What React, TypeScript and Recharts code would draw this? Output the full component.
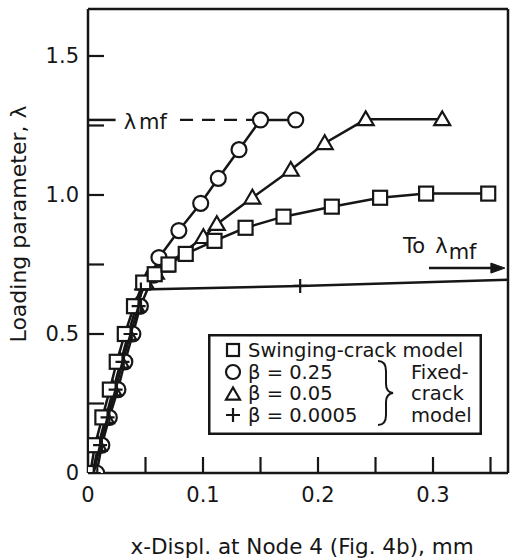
import React from 'react';
import {
  ScatterChart,
  Scatter,
  XAxis,
  YAxis,
  ReferenceLine,
  ReferenceDot,
  Legend,
  Label,
} from 'recharts';

const INK = '#161616';
const FONT = 'DejaVu Sans, Verdana, sans-serif';

const XMAX = 0.3652;
const YMAX = 1.669;
const LAMBDA_MF = 1.27;

const xTickLabels = [0, 0.1, 0.2, 0.3];
const xTickMarks = [0, 0.05, 0.1, 0.15, 0.2, 0.25, 0.3, 0.35];
const yTickLabels = [0, 0.5, 1.0, 1.5];
const yTickMarks = [0, 0.25, 0.5, 0.75, 1.0, 1.25, 1.5];

type Pt = { x: number; y: number; hidden?: boolean };

const swingingCrack: Pt[] = [
  { x: 0.002, y: 0 }, { x: 0.006, y: 0.1 }, { x: 0.0125, y: 0.2 }, { x: 0.019, y: 0.3 },
  { x: 0.025, y: 0.4 }, { x: 0.032, y: 0.5 }, { x: 0.04, y: 0.6 }, { x: 0.048, y: 0.685 },
  { x: 0.058, y: 0.715 }, { x: 0.07, y: 0.75 }, { x: 0.085, y: 0.788 }, { x: 0.11, y: 0.835 },
  { x: 0.137, y: 0.882 }, { x: 0.17, y: 0.922 }, { x: 0.212, y: 0.958 }, { x: 0.254, y: 0.99 },
  { x: 0.294, y: 1.005 }, { x: 0.348, y: 1.005 },
];

const beta025: Pt[] = [
  { x: 0.0075, y: 0 }, { x: 0.012, y: 0.1 }, { x: 0.0185, y: 0.2 }, { x: 0.026, y: 0.3 },
  { x: 0.032, y: 0.4 }, { x: 0.039, y: 0.5 }, { x: 0.0455, y: 0.6 }, { x: 0.057, y: 0.712 },
  { x: 0.0617, y: 0.775 }, { x: 0.079, y: 0.872 }, { x: 0.098, y: 0.97 }, { x: 0.1133, y: 1.06 },
  { x: 0.1313, y: 1.163 }, { x: 0.15, y: 1.27 }, { x: 0.1806, y: 1.27 },
];

const beta005: Pt[] = [
  { x: 0.004, y: 0 }, { x: 0.009, y: 0.1 }, { x: 0.0155, y: 0.2 }, { x: 0.022, y: 0.3 },
  { x: 0.0285, y: 0.4 }, { x: 0.035, y: 0.5 }, { x: 0.042, y: 0.6 }, { x: 0.05, y: 0.685 },
  { x: 0.059, y: 0.72 }, { x: 0.0675, y: 0.745 }, { x: 0.1003, y: 0.848 }, { x: 0.112, y: 0.895 },
  { x: 0.1429, y: 0.99 }, { x: 0.1763, y: 1.09 }, { x: 0.2058, y: 1.186 }, { x: 0.2415, y: 1.272 },
  { x: 0.308, y: 1.272 },
];

const beta00005: Pt[] = [
  { x: 0.005, y: 0 }, { x: 0.0105, y: 0.1 }, { x: 0.017, y: 0.2 }, { x: 0.024, y: 0.3 },
  { x: 0.03, y: 0.4 }, { x: 0.037, y: 0.5 }, { x: 0.044, y: 0.6 }, { x: 0.046, y: 0.66 },
  { x: 0.1845, y: 0.673 }, { x: XMAX, y: 0.695, hidden: true },
];

const legendRows = ['Swinging-crack model', 'β = 0.25', 'β = 0.05', 'β = 0.0005'];
const legendGroup = ['Fixed-', 'crack', 'model'];

const SW = 2.2;
const TICK_FS = 21;
const TICK_LEN = 16;
const X_MARGIN = 14;
const Y_MARGIN = 9;

const SquareMark = ({ cx, cy, s = 7 }: any) => (
  <rect x={cx - s} y={cy - s} width={2 * s} height={2 * s} fill="#fff" stroke={INK} strokeWidth={SW} />
);
const CircleMark = ({ cx, cy, r = 7.5 }: any) => (
  <circle cx={cx} cy={cy} r={r} fill="#fff" stroke={INK} strokeWidth={SW} />
);
const TriangleMark = ({ cx, cy, s = 8 }: any) => (
  <path
    d={`M${cx},${cy - s} L${cx - s},${cy + s * 0.72} L${cx + s},${cy + s * 0.72} Z`}
    fill="#fff"
    stroke={INK}
    strokeWidth={SW}
  />
);
const PlusMark = ({ cx, cy, s = 7, payload }: any) =>
  payload && payload.hidden ? (
    <g />
  ) : (
    <path d={`M${cx - s},${cy} H${cx + s} M${cx},${cy - s} V${cy + s}`} stroke={INK} strokeWidth={SW} fill="none" />
  );

const LegendBox = () => {
  const rowsY = [16, 38, 59.5, 81];
  const symX = 25;
  const textX = 40;
  return (
    <svg width={274} height={101} style={{ display: 'block' }}>
      <rect x={1.25} y={1.25} width={271.5} height={98.5} fill="#fff" stroke={INK} strokeWidth={2.5} />
      <SquareMark cx={symX} cy={rowsY[0]} s={6} />
      <CircleMark cx={symX} cy={rowsY[1]} r={7} />
      <TriangleMark cx={symX} cy={rowsY[2] + 1} s={7} />
      <PlusMark cx={symX} cy={rowsY[3]} s={7} />
      {legendRows.map((t, i) => (
        <text key={t} x={textX} y={rowsY[i]} dominantBaseline="central" fontSize={19.5} fontFamily={FONT} fill={INK}>
          {t}
        </text>
      ))}
      <path
        d="M170,27 Q178,27 178,37 L178,50 Q178,58 185,59 Q178,60 178,68 L178,81 Q178,91 170,91"
        fill="none"
        stroke={INK}
        strokeWidth={2}
      />
      {legendGroup.map((t, i) => (
        <text key={t + i} x={203} y={rowsY[i + 1]} dominantBaseline="central" fontSize={19.5} fontFamily={FONT} fill={INK}>
          {t}
        </text>
      ))}
    </svg>
  );
};

const fmt = (v: number) => (v === 0 ? '0' : v.toFixed(1));

// Bottom axis tick: inward tick line + label (labels only on labelled values)
const XTick = ({ x, y, payload }: any) => {
  const v = payload.value;
  const axisY = y - X_MARGIN;
  const labelled = xTickLabels.some((t) => Math.abs(t - v) < 1e-9);
  return (
    <g>
      {v !== 0 && <line x1={x} x2={x} y1={axisY} y2={axisY - TICK_LEN} stroke={INK} strokeWidth={2.2} />}
      {labelled && (
        <text x={x} y={y} dy="0.71em" textAnchor="middle" fontSize={TICK_FS} fontFamily={FONT} fill={INK}>
          {fmt(v)}
        </text>
      )}
    </g>
  );
};

// Left axis tick: inward tick line + label
const YTick = ({ x, y, payload }: any) => {
  const v = payload.value;
  const axisX = x + Y_MARGIN;
  const labelled = yTickLabels.some((t) => Math.abs(t - v) < 1e-9);
  return (
    <g>
      {v !== 0 && <line x1={axisX} x2={axisX + TICK_LEN} y1={y} y2={y} stroke={INK} strokeWidth={2.2} />}
      {labelled && (
        <text x={x} y={y} textAnchor="end" dominantBaseline="central" fontSize={TICK_FS} fontFamily={FONT} fill={INK}>
          {fmt(v)}
        </text>
      )}
    </g>
  );
};

const YTitle = () => (
  <text
    x={18}
    y={224}
    transform="rotate(-90 18 224)"
    textAnchor="middle"
    dominantBaseline="central"
    fontSize={22}
    fontFamily={FONT}
    fill={INK}
  >
    Loading parameter, λ
  </text>
);

const XTitle = () => (
  <text x={302} y={546} textAnchor="middle" dominantBaseline="central" fontSize={21.5} fontFamily={FONT} fill={INK}>
    x-Displ. at Node 4 (Fig. 4b), mm
  </text>
);

const LambdaText = ({ cx, cy }: any) => (
  <text x={cx} y={cy} dominantBaseline="central" fontSize={21} fontFamily={FONT} fill={INK}>
    λ<tspan dx={3}>mf</tspan>
  </text>
);

const ToLambdaText = ({ cx, cy }: any) => (
  <text x={cx} y={cy} dominantBaseline="central" fontSize={21} fontFamily={FONT} fill={INK}>
    To<tspan dx={10}>λ</tspan>
    <tspan dx={1} dy={6}>mf</tspan>
  </text>
);

const ArrowHead = ({ cx, cy }: any) => (
  <path d={`M${cx},${cy} L${cx - 14},${cy - 5} L${cx - 14},${cy + 5} Z`} fill={INK} stroke={INK} strokeWidth={1} />
);

export default function App() {
  const lineStyle = { stroke: INK, strokeWidth: 2.5 };
  return (
    <div style={{ position: 'absolute', left: 0, top: 0, background: '#fff' }}>
      <ScatterChart width={516} height={560} margin={{ top: 9, right: 8, bottom: 0, left: 0 }}>
        <XAxis
          xAxisId="x"
          dataKey="x"
          type="number"
          domain={[0, XMAX]}
          allowDataOverflow
          ticks={xTickMarks}
          interval={0}
          tickLine={false}
          tickSize={0}
          tickMargin={X_MARGIN}
          height={87}
          axisLine={{ stroke: INK, strokeWidth: 2.5 }}
          tick={<XTick />}
        >
          <Label content={<XTitle />} />
        </XAxis>
        <YAxis
          yAxisId="y"
          dataKey="y"
          type="number"
          domain={[0, YMAX]}
          allowDataOverflow
          ticks={yTickMarks}
          interval={0}
          tickLine={false}
          tickSize={0}
          tickMargin={Y_MARGIN}
          width={88}
          axisLine={{ stroke: INK, strokeWidth: 2.5 }}
          tick={<YTick />}
        >
          <Label content={<YTitle />} />
        </YAxis>

        <ReferenceLine xAxisId="x" yAxisId="y" y={YMAX} stroke={INK} strokeWidth={2.5} ifOverflow="visible" />
        <ReferenceLine xAxisId="x" yAxisId="y" x={XMAX} stroke={INK} strokeWidth={2.5} ifOverflow="visible" />

        <ReferenceLine
          xAxisId="x"
          yAxisId="y"
          segment={[{ x: 0, y: LAMBDA_MF }, { x: 0.024, y: LAMBDA_MF }]}
          stroke={INK}
          strokeWidth={2.5}
        />
        <ReferenceLine
          xAxisId="x"
          yAxisId="y"
          segment={[{ x: 0.08, y: LAMBDA_MF }, { x: 0.144, y: LAMBDA_MF }]}
          stroke={INK}
          strokeWidth={2.2}
          strokeDasharray="13 9"
        />
        <ReferenceDot xAxisId="x" yAxisId="y" x={0.031} y={1.263} r={0} shape={<LambdaText />} />
        <ReferenceDot xAxisId="x" yAxisId="y" x={0.274} y={0.815} r={0} shape={<ToLambdaText />} />
        <ReferenceLine
          xAxisId="x"
          yAxisId="y"
          segment={[{ x: 0.2965, y: 0.737 }, { x: 0.352, y: 0.737 }]}
          stroke={INK}
          strokeWidth={2.5}
        />
        <ReferenceDot xAxisId="x" yAxisId="y" x={0.3625} y={0.737} r={0} shape={<ArrowHead />} />

        <Scatter
          xAxisId="x"
          yAxisId="y"
          name="β = 0.25"
          data={beta025}
          line={lineStyle}
          lineType="joint"
          shape={<CircleMark />}
          isAnimationActive={false}
        />
        <Scatter
          xAxisId="x"
          yAxisId="y"
          name="β = 0.05"
          data={beta005}
          line={lineStyle}
          lineType="joint"
          shape={<TriangleMark />}
          isAnimationActive={false}
        />
        <Scatter
          xAxisId="x"
          yAxisId="y"
          name="Swinging-crack model"
          data={swingingCrack}
          line={lineStyle}
          lineType="joint"
          shape={<SquareMark />}
          isAnimationActive={false}
        />
        <Scatter
          xAxisId="x"
          yAxisId="y"
          name="β = 0.0005"
          data={beta00005}
          line={lineStyle}
          lineType="joint"
          shape={<PlusMark />}
          isAnimationActive={false}
        />

        <Legend
          layout="vertical"
          align="center"
          verticalAlign="middle"
          wrapperStyle={{ position: 'absolute', left: 208, top: 334, width: 274, height: 101 }}
          content={() => <LegendBox />}
        />
      </ScatterChart>
    </div>
  );
}
